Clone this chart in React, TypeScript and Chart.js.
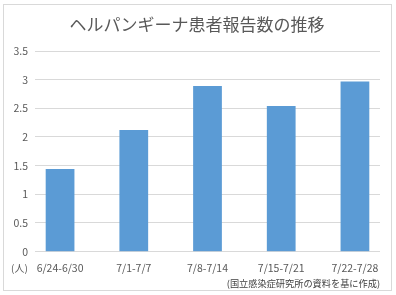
import React, { useEffect, useRef } from "react";
import { Chart, registerables } from "chart.js";

Chart.register(...registerables);

const titleText = "ヘルパンギーナ患者報告数の推移";
const categories = ["6/24-6/30", "7/1-7/7", "7/8-7/14", "7/15-7/21", "7/22-7/28"];
const patients = [1.44, 2.12, 2.89, 2.54, 2.97];
const yTickStep = 0.5;
const yMax = 3.5;
const unitLabel = "(人)";
const sourceText = "(国立感染症研究所の資料を基に作成)";

const FONT = "'Noto Sans CJK JP', 'Noto Sans', sans-serif";
const TEXT = "#595959";

export default function App() {
  const ref = useRef<HTMLCanvasElement | null>(null);

  useEffect(() => {
    if (!ref.current) return;
    const chart = new Chart(ref.current, {
      type: "bar",
      data: {
        datasets: [
          {
            data: patients.map((v, i) => ({ x: i, y: v })),
            backgroundColor: "#5B9BD5",
            borderWidth: 0,
            categoryPercentage: 1,
            barPercentage: 0.39,
          },
        ],
      },
      options: {
        animation: false,
        responsive: false,
        maintainAspectRatio: false,
        layout: { padding: { left: 14, right: 16, top: 0, bottom: 0 } },
        plugins: {
          legend: { display: false },
          tooltip: { enabled: false },
          title: {
            display: true,
            text: titleText,
            color: TEXT,
            font: { family: FONT, size: 17, weight: "normal" },
            padding: { top: 14.3, bottom: 16.3 },
          },
          subtitle: {
            display: true,
            position: "bottom",
            align: "end",
            text: sourceText,
            color: "#404040",
            font: { family: FONT, size: 9.2, weight: "normal" },
            padding: { top: 2.6, bottom: 5.7 },
          },
        },
        scales: {
          x: {
            type: "linear",
            offset: false,
            min: -0.34,
            max: 4.34,
            grid: { display: false, drawTicks: false, offset: false },
            border: { display: false },
            afterBuildTicks: (axis: any) => {
              axis.ticks = categories.map((_, i) => ({ value: i }));
            },
            afterFit: (axis: any) => {
              axis.height = 24;
            },
            ticks: {
              autoSkip: false,
              maxRotation: 0,
              minRotation: 0,
              padding: 10,
              color: TEXT,
              font: { family: FONT, size: 10.5 },
              callback: (value: any) => categories[value as number] ?? "",
            },
          },
          y: {
            min: 0,
            max: yMax,
            grid: { color: "#d9d9d9", lineWidth: 1, drawTicks: false },
            border: { display: false },
            afterFit: (axis: any) => {
              axis.width = 21;
            },
            ticks: {
              stepSize: yTickStep,
              padding: 7,
              color: TEXT,
              font: { family: FONT, size: 10.5 },
              callback: (value: any) => String(Number(value)),
            },
          },
        },
      },
    });
    return () => chart.destroy();
  }, []);

  return (
    <div style={{ position: "fixed", left: 0, top: 0, width: 396, height: 295, background: "#fff" }}>
      <canvas ref={ref} width={396} height={295} style={{ position: "absolute", left: 0, top: 0 }} />
      <div
        style={{
          position: "absolute",
          left: 3,
          top: 4,
          width: 389,
          height: 287,
          boxSizing: "border-box",
          border: "1px solid #d9d9d9",
          pointerEvents: "none",
        }}
      />
      <div
        style={{
          position: "absolute",
          left: 11,
          top: 260,
          fontFamily: FONT,
          fontSize: 10,
          lineHeight: "16px",
          color: TEXT,
          whiteSpace: "nowrap",
        }}
      >
        {unitLabel}
      </div>
    </div>
  );
}
